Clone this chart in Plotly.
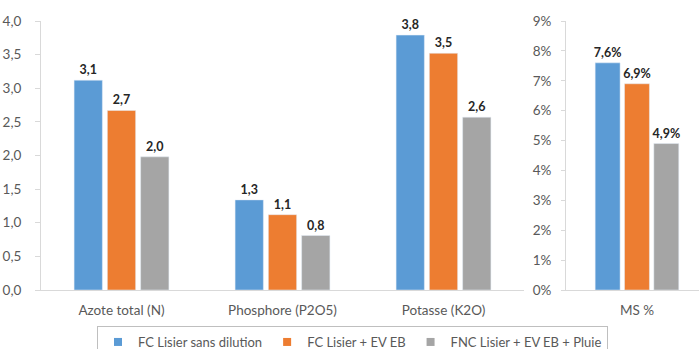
import plotly.graph_objects as go

categories = ["Azote total (N)", "Phosphore (P2O5)", "Potasse (K2O)"]
ms_category = ["MS %"]
series_names = ["FC Lisier sans dilution", "FC Lisier + EV EB", "FNC Lisier + EV EB + Pluie"]
nutrients_fc = [3.12, 1.34, 3.79]
nutrients_fc_ev = [2.67, 1.12, 3.52]
nutrients_fnc = [1.98, 0.81, 2.57]
ms_values = [7.6, 6.9, 4.9]  # percent, one per series
colors = ["#5B9BD5", "#ED7D31", "#A5A5A5"]
title_text = "(en kg/m³ ou t, %)"

FONT = "Lato"
TXT = "#595959"

fig = go.Figure()
left_series = [nutrients_fc, nutrients_fc_ev, nutrients_fnc]
for name, vals, col in zip(series_names, left_series, colors):
    fig.add_trace(go.Bar(
        x=categories, y=vals, name=name, marker_color=col,
        texttemplate="%{y:.1f}", textposition="outside", constraintext="none",
        textfont=dict(family=FONT, size=12.5, color="#262626", weight="bold"),
        cliponaxis=False, showlegend=False, xaxis="x", yaxis="y",
    ))
for name, val, col in zip(series_names, ms_values, colors):
    fig.add_trace(go.Bar(
        x=ms_category, y=[val], name=name, marker_color=col,
        texttemplate="%{y:.1f}%", textposition="outside", constraintext="none",
        textfont=dict(family=FONT, size=12.5, color="#262626", weight="bold"),
        cliponaxis=False, showlegend=False, xaxis="x2", yaxis="y2",
    ))
# legend entries
for name, col in zip(series_names, colors):
    fig.add_trace(go.Scatter(
        x=[None], y=[None], mode="markers", name=name,
        marker=dict(symbol="square", size=8, color=col),
        xaxis="x", yaxis="y", showlegend=True,
    ))

L, R, T, B = 41, 0, 21, 59
W, H = 699, 349
pw = W - L - R
ph = H - T - B

axis_col = "#D9D9D9"
fig.update_layout(
    width=W, height=H,
    margin=dict(l=L, r=R, t=T, b=B, pad=0, autoexpand=False),
    paper_bgcolor="white", plot_bgcolor="white",
    separators=", ",
    barmode="group", bargap=0.38, bargroupgap=0.15,
    font=dict(family=FONT, size=13, color=TXT),
    xaxis=dict(domain=[0, (524 - L) / pw], range=[-0.5, 2.5], showline=True,
               linecolor=axis_col, linewidth=1, ticks="", showgrid=False,
               ticklabelstandoff=8, automargin=False,
               tickfont=dict(family=FONT, size=13.5, color=TXT), anchor="y"),
    yaxis=dict(domain=[0, 1], range=[0, 4], dtick=0.5, tickformat=".1f",
               showline=True, linecolor=axis_col, linewidth=1, ticks="outside",
               ticklen=5, tickcolor=axis_col, showgrid=False, zeroline=False,
               ticklabelstandoff=11, anchor="x", automargin=False,
               tickfont=dict(family=FONT, size=13.5, color=TXT)),
    xaxis2=dict(domain=[(566 - L) / pw, 1], range=[-0.5, 0.437], showline=True,
                linecolor=axis_col, linewidth=1, ticks="", showgrid=False,
                ticklabelstandoff=8, automargin=False,
                tickfont=dict(family=FONT, size=13.5, color=TXT), anchor="y2"),
    yaxis2=dict(domain=[0, 1], range=[0, 9], dtick=1, ticksuffix="%",
                showline=True, linecolor=axis_col, linewidth=1, ticks="outside",
                ticklen=4, tickcolor=axis_col, showgrid=False, zeroline=False,
                ticklabelstandoff=7, anchor="x2", automargin=False,
                tickfont=dict(family=FONT, size=13.5, color=TXT)),
    legend=dict(orientation="h", x=(97 - L) / pw, xanchor="left",
                y=(H - B - 326) / ph, yanchor="top",
                bordercolor="#BFBFBF", borderwidth=1,
                font=dict(family=FONT, size=13, color=TXT)),
    annotations=[dict(text=title_text, xref="paper", yref="paper",
                      x=(356 - L) / pw, y=(H - B - 2) / ph, xanchor="center",
                      yanchor="bottom", showarrow=False,
                      font=dict(family=FONT, size=15, color=TXT))],
)

fig.write_html("out.html", config={"displayModeBar": False},
               post_script="document.body.style.margin='0';document.body.style.padding='0';")
